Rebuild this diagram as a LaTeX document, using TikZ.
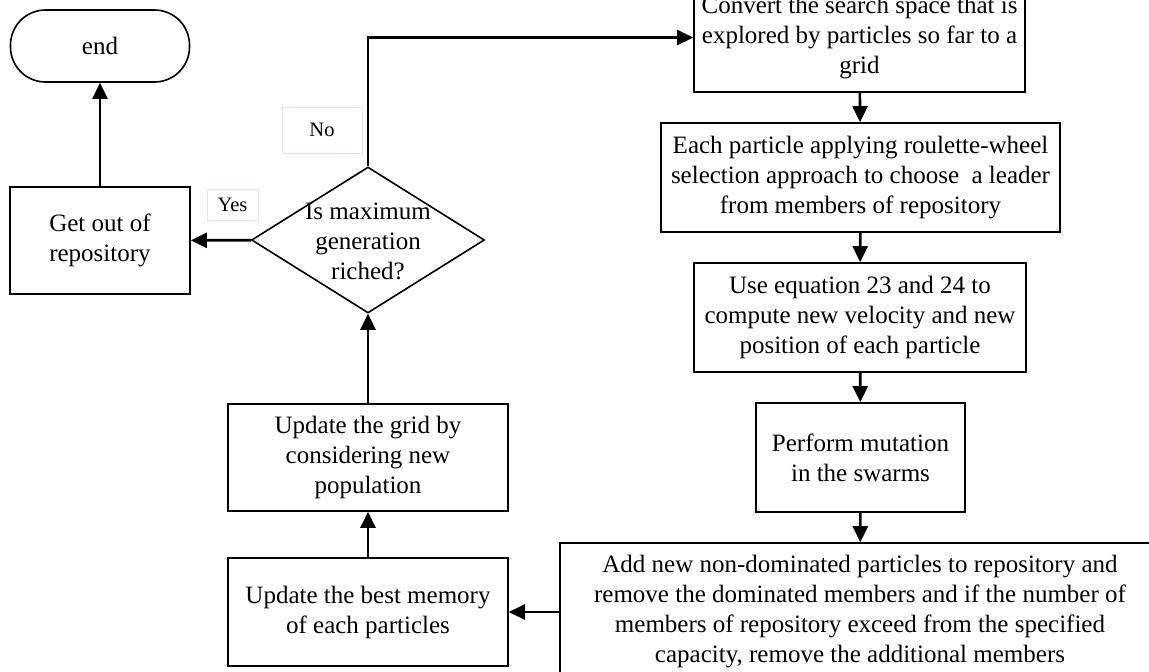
\documentclass[tikz,border=0pt]{standalone}
\usepackage{fontspec}
\setmainfont{Liberation Serif}
\usetikzlibrary{shapes.geometric,arrows.meta}
\definecolor{tagline}{HTML}{DCECEC}

\begin{document}
\begin{tikzpicture}[x=1pt,y=-1pt,
  box/.style={draw,line width=1.6pt,align=center,inner sep=0pt,font=\fontsize{25}{30}\selectfont},
  flow/.style={line width=2.6pt,-{Triangle[length=16pt,width=15pt]}},
  tag/.style={draw=tagline,line width=1pt,inner sep=0pt,font=\fontsize{20.5}{24}\selectfont}]
\useasboundingbox (0,0) rectangle (1149,672);
\clip (0,0) rectangle (1149,672);
% left column
\node at (100,46) [box,rounded corners=35pt,minimum width=179pt,minimum height=72pt] (finish) {end};
\node at (100,240.5) [box,minimum width=180pt,minimum height=107pt] (getout) {Get out of\\repository};
\node at (368,240) [draw,line width=1.6pt,diamond,aspect=1.6,inner sep=0pt,minimum width=233pt,minimum height=146pt] (decide) {};
\node at (368,241) [align=center,font=\fontsize{25}{30}\selectfont] (decidetext) {Is maximum\\generation\\riched?};
\node at (368,457.5) [box,minimum width=280pt,minimum height=107pt] (gridupd) {Update the grid by\\considering new\\population};
\node at (368,612) [box,minimum width=280pt,minimum height=108pt] (bestmem) {Update the best memory\\of each particles};
% right column
\node at (859.5,37.5) [box,minimum width=331pt,minimum height=109pt] (convert) {Convert the search space that is\\explored by particles so far to a\\grid};
\node at (860.5,177.5) [box,minimum width=399pt,minimum height=109pt] (leader) {Each particle applying roulette-wheel\\selection approach to choose\ \ a leader\\from members of repository};
\node at (860,317.5) [box,minimum width=332pt,minimum height=109pt] (velocity) {Use equation 23 and 24 to\\compute new velocity and new\\position of each particle};
\node at (860.5,457.5) [box,minimum width=209pt,minimum height=109pt] (mutation) {Perform mutation\\in the swarms};
\node at (860,612) [box,minimum width=600pt,minimum height=138pt] (archive) {Add new non-dominated particles to repository and\\remove the dominated members and if the number of\\members of repository exceed from the specified\\capacity, remove the additional members};
% branch labels
\node at (322,130) [tag,minimum width=80pt,minimum height=46pt] (nolabel) {No};
\node at (232.5,204.5) [tag,minimum width=51pt,minimum height=31pt] (yeslabel) {Yes};
% connectors
\draw [flow] (decide.north) |- (convert.west);
\draw [flow] (convert) -- (leader);
\draw [flow] (leader) -- (velocity);
\draw [flow] (velocity) -- (mutation);
\draw [flow] (mutation) -- (archive);
\draw [flow] (archive) -- (bestmem);
\draw [flow] (bestmem) -- (gridupd);
\draw [flow] (gridupd) -- (decide);
\draw [flow] (decide) -- (getout);
\draw [flow] (getout) -- (finish);
\end{tikzpicture}
\end{document}
